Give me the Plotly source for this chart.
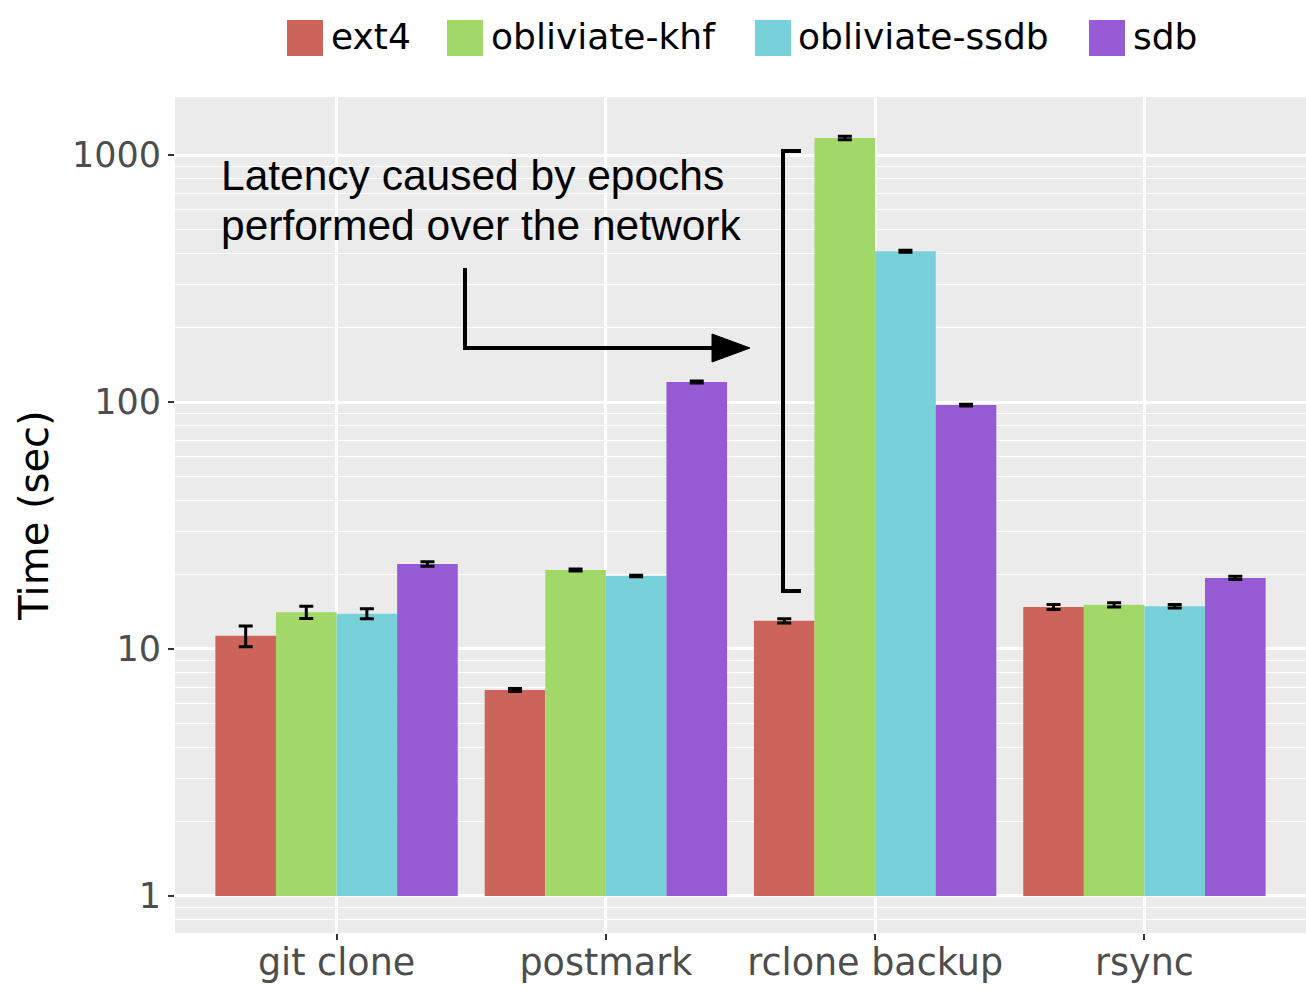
import plotly.graph_objects as go

# Benchmark wall-clock times (seconds) with standard-error half widths
categories = ["git clone", "postmark", "rclone backup", "rsync"]
series = ["ext4", "obliviate-khf", "obliviate-ssdb", "sdb"]
ext4 = [11.3, 6.82, 13.0, 14.8]
ext4_err = [1.1, 0.1, 0.25, 0.35]
khf = [14.1, 20.9, 1172.0, 15.1]
khf_err = [0.8, 0.2, 20.0, 0.3]
ssdb = [13.9, 19.75, 408.0, 14.9]
ssdb_err = [0.65, 0.15, 4.0, 0.25]
sdb = [22.1, 120.5, 97.2, 19.4]
sdb_err = [0.45, 1.2, 0.8, 0.3]
y_ticks = [1, 10, 100, 1000]

colors = ["#CD645A", "#A2D868", "#78D0D8", "#965AD4"]
values = [ext4, khf, ssdb, sdb]
errors = [ext4_err, khf_err, ssdb_err, sdb_err]

W, H = 1306, 990
ML, MR, MT, MB = 175, 0, 97, 57
PW, PH = W - ML - MR, H - MT - MB


def px(x):
    return (x - ML) / PW


def py(y):
    return (H - MB - y) / PH


fig = go.Figure()
# bars rise from 1 (the log-scale origin) up to each value
for name, vals, errs, col in zip(series, values, errors, colors):
    fig.add_trace(go.Bar(
        name=name,
        x=categories,
        y=[v - 1 for v in vals],
        base=1,
        customdata=vals,
        hovertemplate="%{x}<br>" + name + ": %{customdata}<extra></extra>",
        marker=dict(color=col, line=dict(width=0)),
        error_y=dict(type="data", array=errs, visible=True,
                     color="black", thickness=3, width=7),
        showlegend=False,
    ))

shapes = []
annotations = []

# legend keys and labels across the top
legend_keys = [287, 447, 755, 1089]
legend_text = [329, 489, 796, 1131]
for name, col, kx, tx in zip(series, colors, legend_keys, legend_text):
    shapes.append(dict(type="rect", xref="paper", yref="paper",
                       x0=px(kx), x1=px(kx + 36), y0=py(56), y1=py(20),
                       fillcolor=col, line=dict(width=0)))
    annotations.append(dict(xref="paper", yref="paper", x=px(tx), y=py(37),
                            xanchor="left", yanchor="middle", showarrow=False,
                            text=name,
                            font=dict(family="DejaVu Sans", size=36, color="black")))

# callout text
note_font = dict(family="Liberation Sans, Arial", size=42.5, color="black")
for line, yy in [("Latency caused by epochs", 175),
                 ("performed over the network", 225)]:
    annotations.append(dict(xref="paper", yref="paper", x=px(219), y=py(yy),
                            xanchor="left", yanchor="middle", showarrow=False,
                            text=line, font=note_font))

# elbow arrow pointing at the rclone group
shapes.append(dict(type="path", xref="paper", yref="paper",
                   path=f"M {px(465)},{py(268)} L {px(465)},{py(348)} L {px(716)},{py(348)}",
                   line=dict(color="black", width=4)))
shapes.append(dict(type="path", xref="paper", yref="paper",
                   path=f"M {px(712)},{py(334)} L {px(750)},{py(348)} L {px(712)},{py(362)} Z",
                   fillcolor="black", line=dict(color="black", width=1)))

# bracket spanning the network-bound latency
shapes.append(dict(type="path", xref="paper", yref="paper",
                   path=(f"M {px(801)},{py(151)} L {px(783)},{py(151)} "
                         f"L {px(783)},{py(591)} L {px(801)},{py(591)}"),
                   line=dict(color="black", width=4)))

fig.update_layout(
    width=W, height=H,
    margin=dict(l=ML, r=MR, t=MT, b=MB, pad=0),
    paper_bgcolor="white",
    plot_bgcolor="#EBEBEB",
    barmode="group",
    bargap=0.1,
    bargroupgap=0,
    shapes=shapes,
    annotations=annotations,
    font=dict(family="DejaVu Sans"),
    xaxis=dict(
        type="category",
        categoryorder="array", categoryarray=categories,
        range=[-0.6, 3.6],
        showgrid=True, gridcolor="white", gridwidth=2.5,
        ticks="outside", ticklen=6, tickwidth=2, tickcolor="#333333",
        ticklabelstandoff=-9,
        tickfont=dict(family="DejaVu Sans", size=36.5, color="#4D4D4D"),
        showline=False, zeroline=False,
    ),
    yaxis=dict(
        type="log",
        range=[-0.15, 3.235],
        tickmode="array", tickvals=y_ticks, ticktext=[str(t) for t in y_ticks],
        showgrid=True, gridcolor="white", gridwidth=2.5,
        minor=dict(dtick="D1", showgrid=True, gridcolor="white",
                   gridwidth=1.2, ticks=""),
        ticks="outside", ticklen=6, tickwidth=2, tickcolor="#333333",
        tickfont=dict(family="DejaVu Sans", size=35, color="#4D4D4D"),
        title=dict(text="Time (sec)", standoff=10,
                   font=dict(family="DejaVu Sans", size=40, color="black")),
        showline=False, zeroline=False,
    ),
)

fig.write_html("out.html")
